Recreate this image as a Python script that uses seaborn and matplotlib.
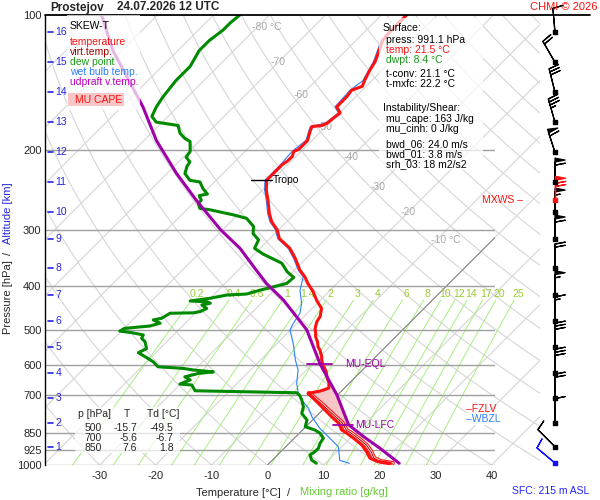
import numpy as np
import pandas as pd
import matplotlib
matplotlib.use('Agg')
import matplotlib.pyplot as plt
import matplotlib.transforms as mtransforms
from matplotlib.patches import Rectangle
import seaborn as sns

# sounding (p in hPa, values in degC)
t_p = [991.1, 982, 966, 934, 903, 872, 850, 836, 807, 781, 736, 693, 685, 675, 658, 642,
       620, 600, 584, 574, 555, 546, 532, 519, 510, 497, 480, 468, 449, 430, 412, 395, 382,
       369, 347, 330, 314, 300, 288, 276, 258, 245, 233, 227, 221, 215, 211, 206, 201, 199,
       190, 182, 177, 176, 174, 170, 165, 160, 152, 147, 144, 140, 133, 127, 114, 110, 105, 100]
t_c = [21.6, 19.0, 17.1, 15.3, 13.3, 10.6, 8.5, 7.0, 5.2, 2.8, -1.3, -5.5, -3.8, -2.8, -3.6, -4.8,
       -6.2, -7.9, -9.1, -9.7, -11.2, -12.1, -13.1, -14.3, -14.9, -15.9, -16.8, -17.1, -18.3, -20.7,
       -22.8, -25.2, -26.9, -29.0, -32.0, -34.7, -38.3, -40.3, -42.7, -44.6, -47.2, -49.3, -51.0,
       -51.0, -51.0, -51.0, -50.7, -50.7, -51.3, -50.8, -50.8, -51.9, -52.5, -50.9, -50.4, -50.2,
       -49.9, -51.6, -51.6, -51.9, -50.7, -51.3, -52.2, -52.8, -55.2, -55.5, -55.5, -55.5]

tv_p = [991.1, 982, 966, 934, 903, 872, 850, 836, 807, 781, 736, 700, 693]
tv_c = [22.0, 19.6, 17.8, 16.1, 14.1, 11.4, 9.3, 7.8, 5.9, 3.5, -0.8, -4.6, -5.4]

td_p = [991.1, 975, 950, 934, 918, 895, 872, 850, 836, 822, 794, 768, 742, 717, 700, 691,
        684, 664, 661, 647, 637, 626, 621, 615, 610, 605, 590, 577, 563, 551, 532, 523, 514,
        508, 504, 497, 491, 484, 476, 472, 460, 459, 456, 449, 441, 437, 434, 432, 426, 419,
        417, 409, 402, 395, 383, 372, 356, 340, 330, 316, 306, 295, 283, 278, 271, 269, 262,
        258, 252, 250, 243, 235, 233, 225, 217, 212, 207, 201, 191, 188, 183, 176, 173, 168,
        160, 152, 140, 130, 120, 114, 108, 104, 100]
td_c = [8.4, 7.0, 5.8, 6.1, 6.1, 5.5, 5.2, 3.7, 2.2, -0.1, -1.0, -3.1, -4.0, -5.5, -6.7, -7.7,
        -26.2, -27.8, -30.1, -29.0, -30.5, -28.7, -26.3, -30.2, -32.3, -37.1, -38.8, -40.8,
        -43.1, -42.4, -43.9, -45.1, -45.4, -47.9, -50.3, -49.9, -45.8, -44.5, -46.3, -45.1,
        -44.5, -40.4, -39.4, -38.8, -40.3, -39.1, -40.0, -43.1, -40.0, -37.6, -34.3, -32.6,
        -30.8, -29.0, -28.8, -31.0, -33.5, -38.4, -41.0, -41.8, -43.9, -45.1, -47.8, -50.8,
        -55.8, -57.9, -59.1, -59.1, -60.3, -59.1, -60.9, -62.6, -64.7, -66.8, -67.7, -68.0,
        -69.5, -69.8, -71.6, -73.1, -74.9, -76.6, -81.1, -82.9, -83.8, -84.4, -85.0, -85.0,
        -86.2, -86.2, -85.6, -85.6, -85.3]

tw_p = [991.1, 977, 911, 865, 829, 781, 748, 717, 693, 658, 615, 584, 537, 501, 484, 460,
        437, 409, 382, 369, 347, 330, 314, 300, 288, 276, 258, 245, 233, 215, 201, 190, 177,
        174, 165, 160, 147, 140, 127, 114, 100]
tw_c = [14.3, 12.1, 9.4, 5.8, 2.8, -0.7, -2.8, -5.5, -7.3, -9.4, -11.5, -13.8, -17.1, -20.1,
        -20.7, -21.3, -22.8, -25.4, -27.2, -29.3, -32.3, -35.0, -38.6, -40.6, -43.0, -44.9,
        -47.5, -49.6, -51.3, -51.3, -51.6, -51.1, -52.8, -50.7, -50.2, -51.9, -52.2, -51.6,
        -53.1, -55.5, -55.8]

par_p = [991.1, 918, 865, 814, 699, 597, 501, 430, 395, 369, 330, 300, 258, 225, 190, 160,
         137, 120, 100]
par_c = [23.2, 17.1, 12.1, 7.3, -0.1, -8.6, -17.1, -26.6, -32.6, -36.8, -43.6, -50.4, -60.0,
         -68.3, -77.8, -86.2, -94.5, -101.6, -110.0]

lfc_p, eql_p, tropo_p = 814, 597, 233
fzlv_p, wbzl_p, mxws_p = 750, 790, 258

# altitude marks (km) and the winds plotted at them
alt_km = list(range(1, 17))
alt_p = [910.7, 805.4, 710.8, 625.6, 547.4, 478.6, 419.0, 365.4, 315.1, 274.4, 235.4,
         201.9, 173.1, 148.5, 127.4, 109.3]
wind_p = alt_p
wind_spd = [10, 10, 20, 30, 30, 15, 55, 20, 60, 55, 60, 60, 35, 30, 20, 10]
wind_dir = [315, 0, 0, 0, 0, 0, 0, 0, 0, 0, 0, 342, 344, 346, 330, 355]
sfc_p, sfc_spd, sfc_dir = 991.1, 10, 310
mxws_spd, mxws_dir = 70, 0

p_levels = [100, 200, 300, 400, 500, 600, 700, 850, 925, 1000]
t_ticks = [-30, -20, -10, 0, 10, 20, 30, 40]
mix_ratios = [0.2, 0.4, 0.6, 1, 1.4, 2, 3, 4, 6, 8, 10, 12, 14, 17, 20, 25]
iso_lbl_t = [-80, -70, -60, -50, -40, -30, -20, -10]
iso_lbl_p = [106.3, 127.2, 150.6, 177.4, 207, 240.6, 274, 316]

table_rows = [('500', '-15.7', '-49.5'), ('700', '-5.6', '-6.7'), ('850', '7.6', '1.8')]

sns.set_style('white')
plt.rcParams['font.family'] = ['Liberation Sans', 'DejaVu Sans']
plt.rcParams['font.size'] = 7.5

SKEW = 450 / 5.6
RED, DRED, GREEN, BLUE, PURPLE = '#ff1010', '#a00000', '#008a00', '#2a7fff', '#a000a8'
BARB_LEN = 5.9
BARB_SIZES = dict(width=0.16, spacing=0.13, height=0.42)


def skew(temp, pres):
    return np.asarray(temp, dtype=float) + SKEW * np.log10(1000.0 / np.asarray(pres, dtype=float))


def mix_td(w, p):
    e = w * p / (622.0 + w)
    a = np.log(e / 6.112)
    return 243.5 * a / (17.67 - a)


def interp_p(p_new, p, v):
    return np.interp(-np.log(p_new), -np.log(np.asarray(p, float)), v)


def fx(px):
    return px / 600.0


def fy(py):
    return 1 - py / 500.0


def prof(p, t, **kw):
    d = pd.DataFrame({'x': skew(t, p), 'p': p})
    sns.lineplot(data=d, x='x', y='p', sort=False, estimator=None, ax=ax, **kw)


def uv(spd, dirs):
    r = np.deg2rad(np.asarray(dirs, float))
    s = np.asarray(spd, float)
    return -s * np.sin(r), -s * np.cos(r)


fig = plt.figure(figsize=(6, 5), dpi=100)
ax = fig.add_axes([fx(45), fy(465), 450 / 600, 450 / 500])
ax.set_yscale('log')
ax.set_ylim(1000, 100)
ax.set_xlim((45 - 267.5) / 5.6, (495 - 267.5) / 5.6)
ax.set_facecolor('white')
blend = mtransforms.blended_transform_factory(ax.transAxes, ax.transData)
bg_clip = Rectangle((0, 0), 1.1, 1.0, transform=ax.transAxes)

# background: isotherms, dry adiabats, mixing ratio lines
pp = np.logspace(2, 3, 60)
for t in range(-130, 60, 10):
    ln, = ax.plot(skew(t, pp), pp, color='#d6d6d6', lw=0.8, zorder=1)
    ln.set_clip_path(bg_clip)
for th in range(-40, 260, 10):
    tt = (th + 273.15) * (pp / 1000.0) ** 0.2857 - 273.15
    ln, = ax.plot(skew(tt, pp), pp, color='#d6d6d6', lw=0.8, zorder=1)
    ln.set_clip_path(bg_clip)
ax.plot(skew(0, pp), pp, color='#7a7a7a', lw=0.7, zorder=1.5)

pm = np.logspace(np.log10(430), 3, 30)
for w in mix_ratios:
    ax.plot(skew(mix_td(w, pm), pm), pm, color='#a8ee7e', lw=0.7, zorder=1.2, clip_on=False)
    ax.text(skew(mix_td(w, 416), 416), 416, f'{w:g}', color='#99cc33', ha='center',
            va='center', fontsize=7.5, clip_on=False)

for t, p in zip(iso_lbl_t, iso_lbl_p):
    if t in (-80, -10):
        ax.text(skew(t, p) - 1.0, p, f'{t} °C', color='#a8a8a8', ha='left', va='center', fontsize=7.5)
    else:
        ax.text(skew(t, p), p, f'{t}', color='#a8a8a8', ha='center', va='center', fontsize=7.5)

for p in p_levels[1:]:
    ax.axhline(p, color='#a0a0a0', lw=1.0, zorder=2)
ax.plot([0, (590 - 45) / 450], [100, 100], transform=blend, color='black', lw=1.3,
        clip_on=False, zorder=8)

# CAPE area between environment and MU parcel
fill_p = np.logspace(np.log10(lfc_p), np.log10(eql_p), 80)
env = np.where(fill_p >= tv_p[-1], interp_p(fill_p, tv_p, tv_c), interp_p(fill_p, t_p, t_c))
par = interp_p(fill_p, par_p, par_c)
ax.fill_betweenx(fill_p, skew(env, fill_p), skew(par, fill_p), where=par > env,
                 color='#f7c6c6', lw=0, zorder=3)

# profiles
prof(tv_p, tv_c, color=RED, lw=3.4, zorder=4)
prof(tv_p, tv_c, color='white', lw=1.8, zorder=4.1)
prof(tv_p, tv_c, color=DRED, lw=0.7, zorder=4.2)
prof(tw_p, tw_c, color=BLUE, lw=0.8, zorder=5)
prof(t_p, t_c, color=RED, lw=2.2, zorder=6)
prof(td_p, td_c, color=GREEN, lw=2.2, zorder=6)
prof(par_p, par_c, color=PURPLE, lw=2.2, zorder=7)
ax.set_xlabel('')
ax.set_ylabel('')

# levels
lfc_x = skew(interp_p(lfc_p, par_p, par_c), lfc_p)
eql_x = skew(interp_p(eql_p, par_p, par_c), eql_p)
tro_x = skew(interp_p(tropo_p, t_p, t_c), tropo_p)
ax.plot([eql_x - 2.4, eql_x + 2.1], [eql_p] * 2, color=PURPLE, lw=1.3, zorder=8)
ax.text(eql_x + 4.5, eql_p, 'MU-EQL', color=PURPLE, va='center', fontsize=7.5, zorder=8)
ax.plot([lfc_x - 2.8, lfc_x + 0.8], [lfc_p] * 2, color=PURPLE, lw=1.3, zorder=8)
ax.text(lfc_x + 1.1, lfc_p, 'MU-LFC', color=PURPLE, va='center', fontsize=7.5, zorder=8)
ax.plot([tro_x - 2.8, tro_x + 1.0], [tropo_p] * 2, color='black', lw=1.0, zorder=8)
ax.text(tro_x + 1.2, tropo_p, 'Tropo', color='black', va='center', fontsize=7.5, zorder=8)
ax.text(0.935, fzlv_p, '–FZLV', color=RED, va='center', fontsize=7.5, transform=blend, zorder=8)
ax.text(0.935, wbzl_p, '–WBZL', color=BLUE, va='center', fontsize=7.5, transform=blend, zorder=9,
        bbox=dict(facecolor='white', edgecolor='none', pad=0.6))
ax.text(0.971, mxws_p, 'MXWS –', color=RED, va='center', fontsize=7.5, transform=blend,
        clip_on=False, zorder=8)

# altitude marks
for km, p in zip(alt_km, alt_p):
    ax.plot([0.007, 0.018], [p, p], transform=blend, color='#2525e0', lw=1.2, zorder=8)
    ax.text(0.023, p, str(km), transform=blend, color='#2525e0', va='center', fontsize=7.5, zorder=8)

ax.set_yticks(p_levels)
ax.set_yticklabels([str(p) for p in p_levels])
ax.minorticks_off()
ax.set_xticks(t_ticks)
ax.set_xticklabels([str(t) for t in t_ticks])
ax.tick_params(axis='both', length=0, labelsize=8)
ax.tick_params(axis='y', pad=2.5)
ax.tick_params(axis='x', pad=4)
for s in ['top', 'right', 'bottom']:
    ax.spines[s].set_visible(False)
ax.spines['left'].set_color('black')
ax.spines['left'].set_linewidth(1.0)

# wind barbs column
axw = fig.add_axes([fx(525), fy(465), 60 / 600, 450 / 500])
axw.set_yscale('log')
axw.set_ylim(1000, 100)
axw.set_xlim(-30, 30)
axw.axis('off')
wu, wv = uv(wind_spd, wind_dir)
axw.barbs(np.zeros(len(wind_p)), wind_p, wu, wv, length=BARB_LEN, pivot='tip', sizes=BARB_SIZES,
          color='black', linewidth=0.9, clip_on=False, zorder=3)
mu_, mv_ = uv([mxws_spd], [mxws_dir])
axw.barbs([0], [mxws_p], mu_, mv_, length=BARB_LEN, pivot='tip', sizes=BARB_SIZES, color=RED,
          linewidth=0.9, clip_on=False, zorder=4)
su, sv = uv([sfc_spd], [sfc_dir])
axw.barbs([0], [sfc_p], su, sv, length=BARB_LEN, pivot='tip', sizes=BARB_SIZES, color='#1010ff',
          linewidth=0.9, clip_on=False, zorder=3)
axw.scatter(np.zeros(len(wind_p)), wind_p, s=7, marker='s', color='black', zorder=5, clip_on=False)
axw.scatter([0], [mxws_p], s=7, marker='s', color=RED, zorder=5, clip_on=False)
axw.scatter([0], [sfc_p], s=7, marker='s', color='#1010ff', zorder=5, clip_on=False)

# boxes over the diagram
for x0, y0, x1, y1 in [(67, 15, 140, 110), (379, 18, 483, 170), (75, 407, 180, 453)]:
    fig.patches.append(Rectangle((fx(x0), fy(y1)), fx(x1) - fx(x0), fy(y0) - fy(y1),
                                 transform=fig.transFigure, facecolor='white', alpha=0.72,
                                 edgecolor='none', zorder=1))
fig.patches.append(Rectangle((fx(68), fy(106)), fx(124) - fx(68), fy(93) - fy(106),
                             transform=fig.transFigure, facecolor='#f7c6c6', edgecolor='none', zorder=2))

legend_items = [('temperature', RED), ('virt.temp.', DRED), ('dew point', '#1a9a1a'),
                ('wet bulb temp.', BLUE), ('udpraft v.temp.', '#c000c0')]
fig.text(fx(70), fy(26), 'SKEW-T', color='black', va='center', fontsize=7.5)
for i, (txt, col) in enumerate(legend_items):
    fig.text(fx(70), fy(42 + 10 * i), txt, color=col, va='center', fontsize=7.5)
fig.text(fx(75), fy(100), 'MU CAPE', color=RED, va='center', fontsize=7.5)

info = [(382.7, 27.7, 'Surface:', 'black'), (386, 40, 'press: 991.1 hPa', 'black'),
        (386, 50, 'temp: 21.5 °C', RED), (386, 60, 'dwpt: 8.4 °C', '#1a9a1a'),
        (386, 74, 't-conv: 21.1 °C', 'black'), (386, 84.3, 't-mxfc: 22.2 °C', 'black'),
        (382.7, 108.3, 'Instability/Shear:', 'black'), (386, 119.3, 'mu_cape: 163 J/kg', 'black'),
        (386, 129.3, 'mu_cinh: 0 J/kg', 'black'), (386, 144.3, 'bwd_06: 24.0 m/s', 'black'),
        (386, 154.3, 'bwd_01: 3.8 m/s', 'black'), (386, 164.3, 'srh_03: 18 m2/s2', 'black')]
for x, y, txt, col in info:
    fig.text(fx(x), fy(y), txt, color=col, va='center', fontsize=7.5)

fig.text(fx(78), fy(414), 'p [hPa]', va='center', fontsize=7.5)
fig.text(fx(127), fy(414), 'T', va='center', ha='center', fontsize=7.5)
fig.text(fx(147), fy(414), 'Td [°C]', va='center', fontsize=7.5)
for i, (pr, tv, tdv) in enumerate(table_rows):
    yy = fy(428.3 + 10 * i)
    fig.text(fx(102), yy, pr, va='center', ha='right', fontsize=7.5)
    fig.text(fx(137), yy, tv, va='center', ha='right', fontsize=7.5)
    fig.text(fx(173.5), yy, tdv, va='center', ha='right', fontsize=7.5)

# titles and axis labels
fig.text(fx(50), fy(7.5), 'Prostejov', fontweight='bold', va='center', fontsize=8.5)
fig.text(fx(117), fy(7.5), '24.07.2026 12 UTC', fontweight='bold', va='center', fontsize=8.5)
fig.text(fx(530), fy(7.5), 'CHMI © 2026', color=RED, va='center', fontsize=8)
fig.text(fx(8), fy(297.5), 'Pressure [hPa]', rotation=90, ha='center', va='center', fontsize=8)
fig.text(fx(8), fy(253), '/', rotation=90, ha='center', va='center', fontsize=8)
fig.text(fx(8), fy(213), 'Altitude [km]', rotation=90, ha='center', va='center', fontsize=8,
         color='#2525e0')
fig.text(fx(238.3), fy(493), 'Temperature [°C]', ha='center', va='center', fontsize=8)
fig.text(fx(288.3), fy(493), '/', ha='center', va='center', fontsize=8)
fig.text(fx(344.2), fy(492), 'Mixing ratio [g/kg]', ha='center', va='center', fontsize=8,
         color='#66cc33')
fig.text(fx(512), fy(491), 'SFC: 215 m ASL', color='#2525ff', va='center', fontsize=7.5)

fig.savefig('out.png', dpi=100, facecolor='white')
